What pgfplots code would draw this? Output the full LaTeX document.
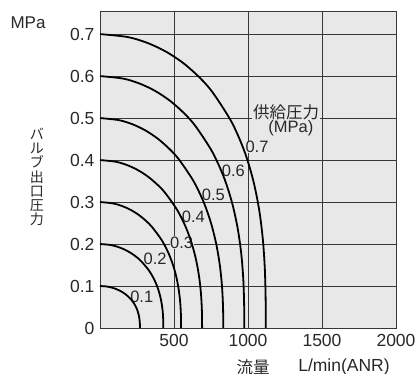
\documentclass[border=0pt]{standalone}
\usepackage{pgfplots}
\pgfplotsset{compat=1.18}
\usepackage{fontspec}
\setmainfont{Liberation Sans}
\newfontfamily\jp{Noto Sans CJK JP}
\definecolor{bg}{RGB}{232,232,232}
\definecolor{gridc}{RGB}{55,55,55}
\definecolor{txt}{RGB}{40,40,40}
\begin{document}
\begin{tikzpicture}
\path[use as bounding box] (-100pt,-46pt) rectangle (318pt,328pt);
\begin{axis}[
  at={(0pt,0pt)}, anchor=south west,
  scale only axis, width=296pt, height=317pt,
  xmin=0, xmax=2000, ymin=0, ymax=0.755,
  axis background/.style={fill=bg},
  xtick={500,1000,1500,2000},
  ytick={0,0.1,0.2,0.3,0.4,0.5,0.6,0.7},
  yticklabels={0,0.1,0.2,0.3,0.4,0.5,0.6,0.7},
  xticklabels={500,1000,1500,2000},
  grid=major, major grid style={gridc, line width=0.9pt},
  major tick length=0pt,
  axis line style={gridc, line width=0.9pt},
  ticklabel style={font=\fontsize{17.5}{20}\selectfont, text=txt},
  xticklabel style={yshift=-3pt},
  yticklabel style={xshift=-2pt},
  clip=false,
]
% curve labels (drawn before curves)
\node[fill=bg, inner sep=0.6pt, text=txt, font=\fontsize{16.5}{18}\selectfont] at (axis cs:1061,0.431) {0.7};
\node[fill=bg, inner sep=0.6pt, text=txt, font=\fontsize{16.5}{18}\selectfont] at (axis cs:901,0.374) {0.6};
\node[fill=bg, inner sep=0.6pt, text=txt, font=\fontsize{16.5}{18}\selectfont] at (axis cs:766,0.317) {0.5};
\node[fill=bg, inner sep=0.6pt, text=txt, font=\fontsize{16.5}{18}\selectfont] at (axis cs:631,0.265) {0.4};
\node[fill=bg, inner sep=0.6pt, text=txt, font=\fontsize{16.5}{18}\selectfont] at (axis cs:552,0.203) {0.3};
\node[fill=bg, inner sep=0.6pt, text=txt, font=\fontsize{16.5}{18}\selectfont] at (axis cs:372,0.164) {0.2};
\node[fill=bg, inner sep=0.6pt, text=txt, font=\fontsize{16.5}{18}\selectfont] at (axis cs:282,0.075) {0.1};
\node[fill=bg, inner sep=0.8pt, text=txt, font=\jp\fontsize{16.5}{18}\selectfont] at (axis cs:1257,0.514) {供給圧力};
\node[fill=bg, inner sep=0.3pt, text=txt, font=\fontsize{16.5}{18}\selectfont] at (axis cs:1290,0.476) {(MPa)};
% curves
\addplot[black, line width=1.8pt, smooth] coordinates {
(0,0.1) (41.7,0.099) (71.7,0.097) (100.3,0.094) (127.6,0.09) (153.4,0.085) (173.9,0.08) (204.8,0.07) (227.0,0.06) (243.1,0.05) (254.6,0.04) (262.4,0.03) (267.1,0.02) (269.5,0.01) (270,0)};
\addplot[black, line width=1.8pt, smooth] coordinates {
(0,0.2) (66.1,0.198) (113.6,0.194) (159.0,0.188) (202.3,0.18) (243.2,0.17) (275.6,0.16) (324.6,0.14) (359.8,0.12) (385.3,0.10) (403.6,0.08) (415.9,0.06) (423.5,0.04) (427.1,0.02) (428,0)};
\addplot[black, line width=1.8pt, smooth] coordinates {
(0,0.3) (84.6,0.297) (145.5,0.291) (203.6,0.282) (259.0,0.27) (311.4,0.255) (352.9,0.24) (415.6,0.21) (460.6,0.18) (493.4,0.15) (516.7,0.12) (532.5,0.09) (542.2,0.06) (546.9,0.03) (548,0)};
\addplot[black, line width=1.8pt, smooth] coordinates {
(0,0.4) (106.5,0.396) (183.2,0.388) (256.3,0.376) (326.2,0.36) (392.1,0.34) (444.3,0.32) (523.3,0.28) (580.0,0.24) (621.2,0.20) (650.6,0.16) (670.5,0.12) (682.7,0.08) (688.6,0.04) (690,0)};
\addplot[black, line width=1.8pt, smooth] coordinates {
(0,0.5) (128.6,0.495) (221.2,0.485) (309.5,0.47) (393.8,0.45) (473.4,0.425) (536.4,0.40) (631.7,0.35) (700.2,0.30) (750.0,0.25) (785.4,0.20) (809.5,0.15) (824.2,0.10) (831.3,0.05) (833,0)};
\addplot[black, line width=1.8pt, smooth] coordinates {
(0,0.6) (156.6,0.594) (269.0,0.582) (375.9,0.564) (477.3,0.54) (572.3,0.51) (646.9,0.48) (758.0,0.42) (835.9,0.36) (891.0,0.30) (928.9,0.24) (953.5,0.18) (967.6,0.12) (973.7,0.06) (975,0)};
\addplot[black, line width=1.8pt, smooth] coordinates {
(0,0.7) (186.6,0.693) (320.2,0.679) (446.7,0.658) (566.2,0.63) (677.2,0.595) (763.4,0.56) (890.2,0.49) (976.9,0.42) (1036.4,0.35) (1076.1,0.28) (1100.6,0.21) (1113.8,0.14) (1119.1,0.07) (1120,0)};
\end{axis}
\node[text=txt, font=\fontsize{17}{20}\selectfont] at (-72pt,305pt) {MPa};
\node[text=txt, align=center, font=\jp\fontsize{14}{14.2}\selectfont] at (-63pt,151pt) {バ\\ル\\ブ\\出\\口\\圧\\力};
\node[text=txt, font=\jp\fontsize{16.5}{18}\selectfont] at (153pt,-39pt) {流量};
\node[text=txt, font=\fontsize{17.5}{20}\selectfont] at (244pt,-39pt) {L/min(ANR)};
\end{tikzpicture}
\end{document}
